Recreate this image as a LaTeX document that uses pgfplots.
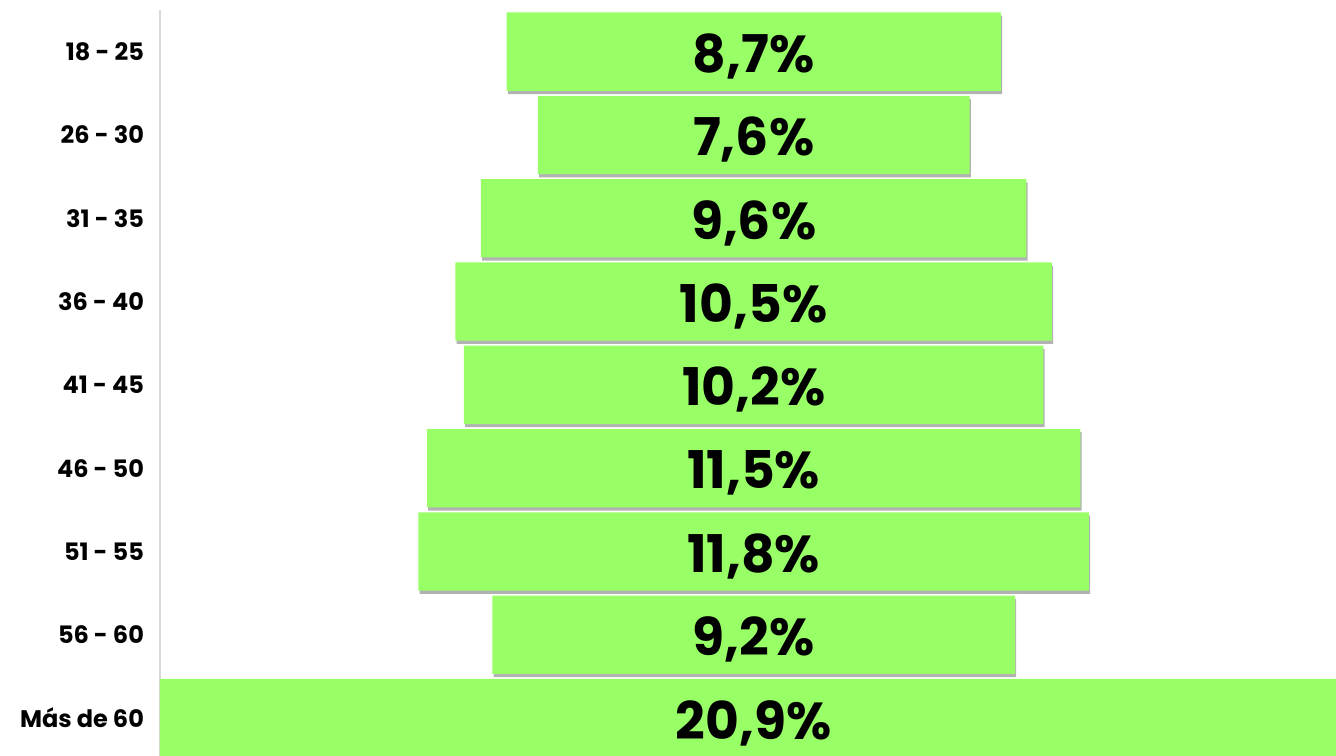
\documentclass[border=0pt]{standalone}
\usepackage{pgfplots}
\pgfplotsset{compat=1.18}
\usepackage{fontspec}
\setmainfont{Poppins}
\usetikzlibrary{shadows}
\definecolor{barg}{HTML}{99FF66}
\definecolor{axgray}{HTML}{D9D9D9}

% row, centring offset ((20.9 - share)/2), share in %
\pgfplotstableread{
row off val
0 6.10 8.7
1 6.65 7.6
2 5.65 9.6
3 5.20 10.5
4 5.35 10.2
5 4.70 11.5
6 4.55 11.8
7 5.85 9.2
8 0.00 20.9
}\funnel

\pgfplotsset{
  common/.style={
    scale only axis,
    width=588pt, height=373pt,
    xmin=0, xmax=20.7,
    ymin=-0.5, ymax=8.455,
    y dir=reverse,
  },
}

\begin{document}
\begin{tikzpicture}
  \begin{axis}[
    common,
    name=main,
    xbar stacked,
    bar width=0.94,
    axis x line=none,
    axis y line*=left,
    y axis line style={draw=axgray, line width=1pt},
    ytick={0,...,8},
    yticklabels={18 - 25, 26 - 30, 31 - 35, 36 - 40, 41 - 45, 46 - 50, 51 - 55, 56 - 60, Más de 60},
    major tick length=0pt,
    yticklabel style={font=\bfseries\fontsize{12}{14}\selectfont, xshift=-4.5pt},
  ]
    % invisible offset that centres each bar
    \addplot[draw=none, fill=none] table[x=off, y=row]{\funnel};
    % visible bars
    \addplot[draw=none, fill=barg,
      drop shadow={shadow xshift=0.6pt, shadow yshift=-1.6pt, fill=black, opacity=0.3}]
      table[x=val, y=row]{\funnel};
  \end{axis}
  % labels in the middle of each bar
  \begin{axis}[common, hide axis]
    \addplot[draw=none, nodes near coords, point meta=explicit symbolic,
      every node near coord/.append style={anchor=center, text=black, yshift=-2.5pt,
        font=\bfseries\fontsize{26}{30}\selectfont}]
      coordinates {
        (10.45,0) [8,7\%]
        (10.45,1) [7,6\%]
        (10.45,2) [9,6\%]
        (10.45,3) [10,5\%]
        (10.45,4) [10,2\%]
        (10.45,5) [11,5\%]
        (10.45,6) [11,8\%]
        (10.45,7) [9,2\%]
        (10.45,8) [20,9\%]
      };
  \end{axis}
  \pgfresetboundingbox
  \path (main.south west) ++(-80pt,0pt) coordinate (bbl);
  \path (main.north east) ++(0pt,5pt) coordinate (bbr);
  \path[use as bounding box] (bbl) rectangle (bbr);
\end{tikzpicture}
\end{document}
